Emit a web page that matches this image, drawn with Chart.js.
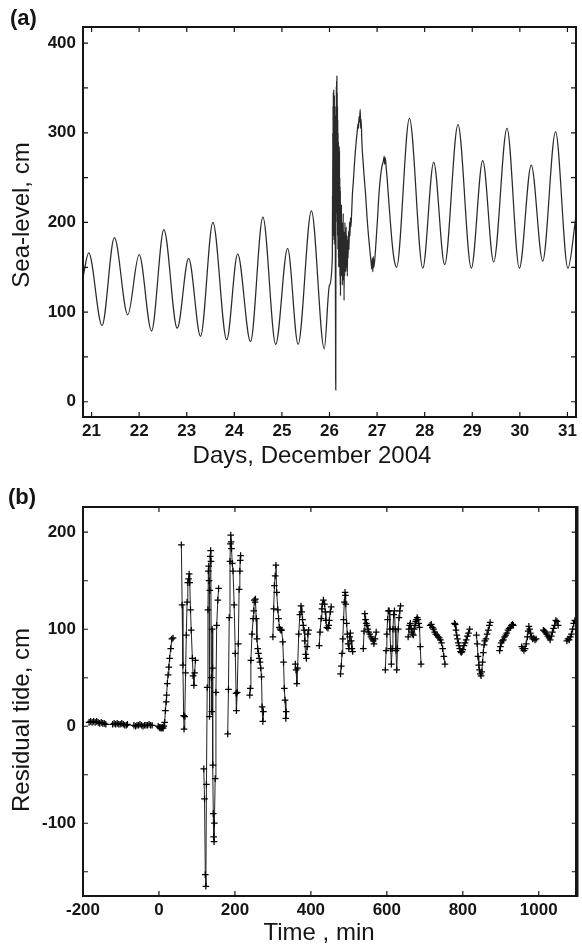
<!DOCTYPE html>
<html>
<head>
<meta charset="utf-8">
<script src="https://cdn.jsdelivr.net/npm/chart.js@4.4.1/dist/chart.umd.min.js"></script>
<style>
  html, body { margin: 0; padding: 0; background: #fff; }
  .panel { position: absolute; left: 0; width: 582px; }
  #panelA { top: 0; height: 470px; }
  #panelB { top: 470px; height: 480px; }
</style>
</head>
<body>
<div class="panel" id="panelA"><canvas id="chartA"></canvas></div>
<div class="panel" id="panelB"><canvas id="chartB"></canvas></div>
<script>
// ---- (a) sea level, days of December 2004 ----
const daysA = [
  20.82, 20.94, 21.22, 21.48, 21.76, 22.00, 22.26, 22.52, 22.80, 23.04, 23.29, 23.55,
  23.84, 24.07, 24.34, 24.60, 24.87, 25.12, 25.34, 25.62, 25.89, 26.00,
  26.060, 26.063, 26.066, 26.069, 26.072, 26.075, 26.078, 26.081, 26.084, 26.087,
  26.090, 26.093, 26.096, 26.099, 26.102, 26.105, 26.108, 26.111, 26.114, 26.117,
  26.120, 26.123, 26.126, 26.129, 26.132, 26.135, 26.138, 26.141, 26.144, 26.147,
  26.150, 26.153, 26.156, 26.159, 26.162, 26.165, 26.168, 26.171, 26.174, 26.177,
  26.180, 26.183, 26.186, 26.189, 26.192, 26.195, 26.198, 26.201, 26.204, 26.207,
  26.210, 26.213, 26.216, 26.219, 26.222, 26.225, 26.228, 26.231, 26.234, 26.237,
  26.240, 26.246, 26.252, 26.258, 26.264, 26.270, 26.276, 26.282,
  26.288, 26.294, 26.300, 26.306, 26.312, 26.318, 26.324, 26.330, 26.336, 26.342,
  26.350, 26.358, 26.366, 26.374, 26.382, 26.390, 26.400, 26.410, 26.420, 26.430,
  26.440, 26.450, 26.465, 26.480, 26.500, 26.520, 26.540, 26.560, 26.580, 26.600,
  26.610, 26.620, 26.630, 26.645, 26.655, 26.665, 26.680, 26.700, 26.730, 26.760,
  26.790, 26.820, 26.850, 26.875, 26.890, 26.900, 26.910, 26.920, 26.930, 26.950,
  26.980, 27.010, 27.040, 27.070, 27.100, 27.130, 27.150, 27.160, 27.175, 27.190,
  27.210, 27.240, 27.280, 27.320, 27.360, 27.410,
  27.68, 27.96, 28.19, 28.42, 28.70, 28.98, 29.22, 29.45, 29.73, 29.99,
  30.24, 30.48, 30.75, 31.01, 31.18
];
const levelA = [
  139, 166, 85, 183, 97, 164, 79, 192, 82, 160, 73, 200,
  69, 165, 67, 206, 64, 171, 64, 213, 59, 130,
  162, 230, 175, 300, 190, 330, 210, 345, 185, 320,
  348, 200, 335, 180, 342, 215, 310, 175, 330, 195,
  290, 150, 90, 30, 13, 180, 320, 220, 352, 240,
  358, 210, 364, 230, 345, 200, 330, 185, 315, 170,
  300, 175, 290, 160, 275, 150, 265, 165, 285, 160,
  280, 150, 250, 140, 240, 130, 235, 118, 220, 140,
  210, 150, 220, 140, 200, 130, 195, 150,
  210, 135, 190, 113, 185, 140, 200, 150, 190, 145,
  195, 150, 185, 140, 180, 160, 190, 170, 200, 185,
  205, 195, 210, 230, 245, 262, 277, 290, 300, 310,
  305, 318, 312, 326, 305, 315, 290, 272, 250, 230,
  205, 185, 168, 155, 148, 160, 145, 162, 150, 158,
  180, 205, 232, 250, 262, 268, 274, 265, 272, 262,
  250, 228, 200, 175, 158, 150,
  316, 149, 267, 153, 309, 149, 269, 156, 305, 149,
  264, 157, 301, 149, 207
];
const dayTicks = [21, 22, 23, 24, 25, 26, 27, 28, 29, 30, 31];
const levelTicks = [0, 50, 100, 150, 200, 250, 300, 350, 400];
const levelLabels = [0, 100, 200, 300, 400];

// ---- (b) residual tide, minutes (null = break between records) ----
const minutesB = [
  -184, -180, -176, -172, -168, -164, -160, -156, -152, -148, -144, -140, null,
  -122, -118, -114, -110, -106, -102, -98, -94, -90, -86, -83, null,
  -66, -62, -58, -54, -50, -46, -42, -38, -34, -30, -26, -22, -18, null,
  -2, 1, 3, 5, 7, 9, 11, 13, 15, 17, 19, 20, 22, 24, 26, 28, 31, 34, 37, null,
  59, 61, 63, 65, 66, 68, 70, 72, 74, 76, 78, 79.5, 81, 83, 85, 88, 90, 92, 94, 96, null,
  118, 120, 122, 123.5, 125, 127, 129, 130, 131, 132, 133, 134, 135, 136, 137, 138, 139,
  140, 141, 142, 143, 144, 145, 146, 148, 150, 152, 155, 157, null,
  181, 183, 185, 187, 188, 189, 190, 191, 193, 195, 198, 201, 203, 204, 206, 209, 211, 213, 214, 215, null,
  239, 240.5, 242, 245, 248, 249.6, 251, 253, 254, 256, 258, 260, 262, 264, 266, 268, 270, 271.5, 273.5, 275, null,
  300, 302, 304, 306, 308, 310, 313, 315, 317, 319, 321, 323, 326, 328, 330, 332, 334, 335, null,
  359, 361, 363, 365, 368, 371, 374, 376, 378, 380, 382, 384, 386, 388, 390, 392, 394, null,
  422, 424, 427, 429, 430.5, 433, 436, 438, 439.5, 442, 445, 447, 448.5, 451, 453.5, null,
  478, 480, 482, 484, 486, 488, 490, 491, 492, 494, 496, 498, 500, 502, 504, 506, 508, 510, null,
  538, 540, 542, 544, 546, 548, 550, 552, 555, 558, 561, 564, 566, 569, 572, null,
  596, 598, 600, 602, 604, 606, 608, 610, 612, 614, 616, 618, 620, 622, 624, 626, 628, 630, 632, 634, 636, null,
  656, 658, 660, 662, 664, 666, 668, 670, 672, 674, 676, 678, 680, 682, 684, 686, 688, 690, null,
  714, 717, 720, 723, 726, 729, 732, 735, 738, 741, 744, 747, 750, 753, null,
  778, 780, 782, 784, 786, 788, 790, 792, 794, 796, 798, 800, 803, 806, 809, 812, 815, 818, null,
  836, 838, 840, 842, 844, 846, 848, 850, 852, 854, 856, 858, 861, 864, 867, 870, 872, null,
  897, 899, 901, 904, 907, 910, 913, 916, 919, 922, 925, 928, 931, 933, null,
  955, 958, 961, 964, 967, 970, 972, 974, 976, 978, 981, 984, 987, 990, 993, null,
  1012, 1015, 1018, 1021, 1024, 1027, 1030, 1033, 1036, 1039, 1042, 1045, 1048, 1051, null,
  1074, 1077, 1080, 1083, 1086, 1089, 1092, 1095, 1098
];
const residualB = [
  4, 5, 4, 5, 4, 5, 4, 3, 4, 3, 3, 2, null,
  2, 3, 2, 3, 2, 2, 3, 2, 1, 1, 2, null,
  1, 0, 1, 1, 2, 1, 0, 1, 1, 1, 2, 1, 1, null,
  0, -1, -2, -1, -2, -1, -2, 0, 4, 16, 25, 32, 44, 53, 61, 70, 80, 90, 91, null,
  187, 125, 63, 11, -3, 10, 55, 94, 128, 148, 152, 157, 148, 120, 99, 70, 52, 42, 55, 68, null,
  -44, -75, -153, -165, -60, 40, 120, 160, 165, 150, 10, 140, 175, 181, 170, 50, 15,
  100, 60, -40, -90, -114, -119, -100, -54, 35, 104, 130, 142, null,
  -8, 38, 112, 170, 188, 197, 190, 183, 168, 160, 125, 75, 34, 16, 35, 85, 141, 160, 171, 176, null,
  32, 39, 68, 95, 111, 119, 130, 128, 131, 111, 90, 80, 75, 70, 66, 60, 51, 20, 5, 15, null,
  92, 121, 145, 155, 166, 138, 120, 111, 102, 100, 99, 99, 87, 66, 39, 27, 8, 15, null,
  64, 58, 44, 60, 95, 115, 124, 118, 110, 104, 99, 88, 74, 70, 82, 95, 99, null,
  83, 97, 111, 121, 126, 130, 126, 118, 109, 102, 101, 104, 109, 118, 123, null,
  54, 62, 75, 90, 110, 128, 138, 135, 126, 106, 95, 85, 80, 92, 96, 88, 80, 77, null,
  80, 98, 116, 110, 106, 104, 100, 97, 95, 92, 90, 88, 85, 90, 97, null,
  58, 78, 95, 110, 119, 119, 100, 80, 64, 80, 100, 115, 119, 100, 78, 58, 80, 100, 112, 119, 124, null,
  92, 100, 104, 106, 101, 97, 95, 94, 100, 104, 108, 110, 112, 110, 106, 102, 82, 64, null,
  104, 105, 102, 100, 97, 95, 94, 92, 91, 89, 86, 80, 72, 64, null,
  106, 105, 99, 94, 90, 86, 83, 80, 77, 76, 77, 79, 83, 86, 89, 93, 96, 100, null,
  94, 85, 72, 63, 58, 54, 52, 56, 66, 76, 84, 88, 90, 95, 99, 104, 107, null,
  78, 82, 86, 88, 89, 92, 94, 96, 99, 101, 102, 104, 105, 104, null,
  82, 80, 78, 80, 85, 92, 98, 103, 100, 96, 92, 90, 91, 89, 90, null,
  99, 98, 97, 95, 93, 91, 89, 93, 97, 101, 104, 109, 108, 104, null,
  88, 90, 89, 92, 95, 100, 106, 109, 108
];
const timeTicks = [-200, 0, 200, 400, 600, 800, 1000];
const residTicks = [-150, -100, -50, 0, 50, 100, 150, 200];
const residLabels = [-100, 0, 100, 200];

// ---- helpers ----
const FONT = '"Liberation Sans", Arial, Helvetica, sans-serif';
const INK = '#151515';

// matlab-like box: frame, inward ticks on all four sides, titles and panel tag
const framePlugin = {
  id: 'frame',
  afterDatasetsDraw(chart, args, o) {
    const { ctx, chartArea: a } = chart;
    const x = chart.scales.x, y = chart.scales.y;
    const tl = 5;
    ctx.save();
    ctx.strokeStyle = INK;
    ctx.lineWidth = 1.2;
    ctx.beginPath();
    x.ticks.forEach(t => {
      const px = x.getPixelForValue(t.value);
      ctx.moveTo(px, a.bottom); ctx.lineTo(px, a.bottom - tl);
      ctx.moveTo(px, a.top); ctx.lineTo(px, a.top + tl);
    });
    y.ticks.forEach(t => {
      const py = y.getPixelForValue(t.value);
      ctx.moveTo(a.left, py); ctx.lineTo(a.left + tl, py);
      ctx.moveTo(a.right, py); ctx.lineTo(a.right - tl, py);
    });
    ctx.stroke();

    ctx.lineWidth = 2;
    ctx.strokeRect(a.left, a.top, a.right - a.left, a.bottom - a.top);
    if (o.rightWidth) {
      ctx.lineWidth = o.rightWidth;
      ctx.beginPath();
      ctx.moveTo(a.right, a.top - 1); ctx.lineTo(a.right, a.bottom + 1);
      ctx.stroke();
    }

    ctx.fillStyle = INK;
    ctx.textAlign = 'center';
    ctx.textBaseline = 'middle';
    ctx.font = '24px ' + FONT;
    ctx.fillText(o.xTitle, o.xTitlePos[0], o.xTitlePos[1]);
    ctx.save();
    ctx.translate(o.yTitlePos[0], o.yTitlePos[1]);
    ctx.rotate(-Math.PI / 2);
    ctx.fillText(o.yTitle, 0, 0);
    ctx.restore();

    ctx.font = 'bold 22px ' + FONT;
    ctx.textAlign = 'left';
    ctx.fillText(o.tag, o.tagPos[0], o.tagPos[1]);
    ctx.restore();
  }
};

function axis(min, max, tickList, labelList, isX, size) {
  return {
    type: 'linear',
    min: min,
    max: max,
    grid: { display: false, drawTicks: false },
    border: { display: false },
    afterBuildTicks: s => { s.ticks = tickList.map(v => ({ value: v })); },
    afterFit: s => { if (isX) s.height = size; else s.width = size; },
    ticks: {
      autoSkip: false,
      maxRotation: 0,
      padding: isX ? 4 : 7,
      color: INK,
      font: { family: FONT, size: 17, weight: 'bold' },
      callback: v => (labelList.includes(v) ? String(v) : '')
    }
  };
}

Chart.defaults.animation = false;

// ---- (a) ----
new Chart(document.getElementById('chartA'), {
  type: 'line',
  data: {
    datasets: [{
      data: daysA.map((d, i) => ({ x: d, y: levelA[i] })),
      borderColor: '#2a2a2a',
      borderWidth: 1.25,
      pointRadius: 0,
      cubicInterpolationMode: 'monotone',
      fill: false
    }]
  },
  options: {
    responsive: true,
    maintainAspectRatio: false,
    layout: { padding: { top: 27, right: 6, left: 0, bottom: 0 } },
    scales: {
      x: axis(20.82, 31.18, dayTicks, dayTicks, true, 53),
      y: axis(-17, 418, levelTicks, levelLabels, false, 83)
    },
    plugins: {
      legend: { display: false },
      tooltip: { enabled: false },
      frame: {
        xTitle: 'Days, December 2004', xTitlePos: [312, 456],
        yTitle: 'Sea-level, cm', yTitlePos: [22, 215],
        tag: '(a)', tagPos: [10, 19]
      }
    }
  },
  plugins: [framePlugin]
});

// ---- (b) ----
const pointsB = [];
minutesB.forEach((t, i) => {
  if (t === null) pointsB.push({ x: minutesB[i - 1], y: null });
  else pointsB.push({ x: t, y: residualB[i] });
});

new Chart(document.getElementById('chartB'), {
  type: 'line',
  data: {
    datasets: [{
      data: pointsB,
      borderColor: '#222',
      borderWidth: 1,
      tension: 0,
      spanGaps: false,
      pointStyle: 'cross',
      pointRadius: 3.3,
      pointBorderWidth: 1.25,
      pointBorderColor: '#000',
      fill: false
    }]
  },
  options: {
    responsive: true,
    maintainAspectRatio: false,
    layout: { padding: { top: 37, right: 5, left: 0, bottom: 0 } },
    scales: {
      x: axis(-200, 1100, timeTicks, timeTicks, true, 54),
      y: axis(-175, 226, residTicks, residLabels, false, 83)
    },
    plugins: {
      legend: { display: false },
      tooltip: { enabled: false },
      frame: {
        xTitle: 'Time , min', xTitlePos: [319, 463],
        yTitle: 'Residual tide, cm', yTitlePos: [22, 250],
        tag: '(b)', tagPos: [8, 28],
        rightWidth: 3.5
      }
    }
  },
  plugins: [framePlugin]
});
</script>
</body>
</html>
